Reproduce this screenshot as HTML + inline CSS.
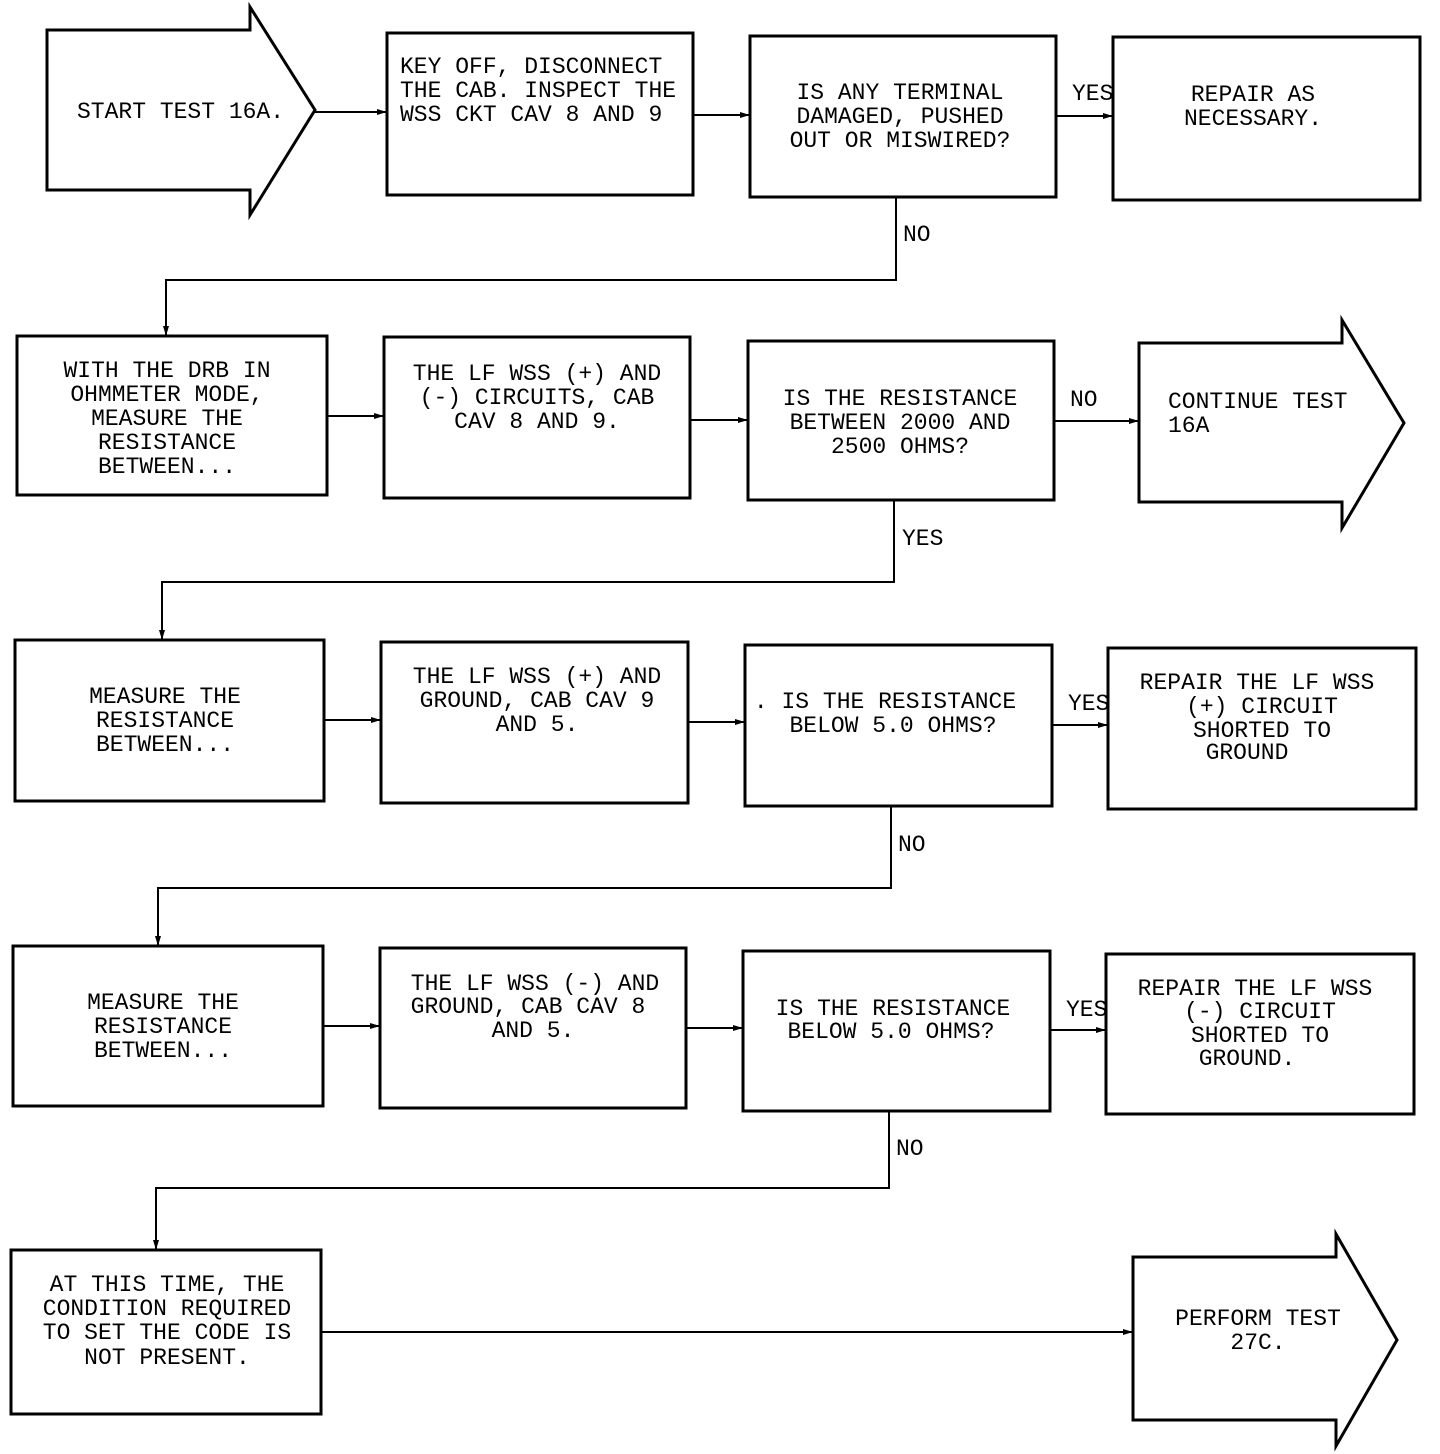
<!DOCTYPE html>
<html><head><meta charset="utf-8"><style>
html,body{margin:0;padding:0;background:#fff}
svg{display:block}
text{font-family:"Liberation Mono",monospace;font-size:23px;fill:#000}
</style></head><body>
<svg width="1440" height="1454" viewBox="0 0 1440 1454" xmlns="http://www.w3.org/2000/svg">
<defs><marker id="a" markerWidth="10" markerHeight="8" refX="9" refY="4" orient="auto" markerUnits="userSpaceOnUse"><path d="M0,1 L10,4 L0,7 Z" fill="#000"/></marker></defs>
<g fill="none" stroke="#000" stroke-width="3">
<!-- row1 -->
<polygon points="47,30 250,30 250,7 315,110 250,215 250,190 47,190"/>
<rect x="387" y="33" width="306" height="162"/>
<rect x="750" y="36" width="306" height="161"/>
<rect x="1113" y="37" width="307" height="163"/>
<!-- row2 -->
<rect x="17" y="336" width="310" height="159"/>
<rect x="384" y="337" width="306" height="161"/>
<rect x="748" y="341" width="306" height="159"/>
<polygon points="1139,343 1342,343 1342,320 1404,423 1342,528 1342,502 1139,502"/>
<!-- row3 -->
<rect x="15" y="640" width="309" height="161"/>
<rect x="381" y="642" width="307" height="161"/>
<rect x="745" y="645" width="307" height="161"/>
<rect x="1108" y="648" width="308" height="161"/>
<!-- row4 -->
<rect x="13" y="946" width="310" height="160"/>
<rect x="380" y="948" width="306" height="160"/>
<rect x="743" y="951" width="307" height="160"/>
<rect x="1106" y="954" width="308" height="160"/>
<!-- row5 -->
<rect x="11" y="1250" width="310" height="164"/>
<polygon points="1133,1257 1336,1257 1336,1234 1397,1340 1336,1446 1336,1420 1133,1420"/>
</g>
<g fill="none" stroke="#000" stroke-width="2" marker-end="url(#a)">
<line x1="315" y1="112" x2="386" y2="112"/>
<line x1="693" y1="115" x2="749" y2="115"/>
<line x1="1056" y1="116" x2="1112" y2="116"/>
<polyline points="896,197 896,280 166,280 166,335"/>
<line x1="327" y1="416" x2="383" y2="416"/>
<line x1="690" y1="420" x2="747" y2="420"/>
<line x1="1054" y1="421" x2="1138" y2="421"/>
<polyline points="894,500 894,582 162,582 162,639"/>
<line x1="324" y1="720" x2="380" y2="720"/>
<line x1="688" y1="722" x2="744" y2="722"/>
<line x1="1052" y1="725" x2="1107" y2="725"/>
<polyline points="891,806 891,888 158,888 158,945"/>
<line x1="323" y1="1026" x2="379" y2="1026"/>
<line x1="686" y1="1028" x2="742" y2="1028"/>
<line x1="1050" y1="1030" x2="1105" y2="1030"/>
<polyline points="889,1111 889,1188 156,1188 156,1249"/>
<line x1="321" y1="1332" x2="1132" y2="1332"/>
</g>
<text x="77" y="118">START TEST 16A.</text>
<text x="400" y="73">KEY OFF, DISCONNECT</text>
<text x="400" y="97">THE CAB. INSPECT THE</text>
<text x="400" y="121">WSS CKT CAV 8 AND 9</text>
<g text-anchor="middle">
<text x="900" y="99">IS ANY TERMINAL</text>
<text x="900" y="123">DAMAGED, PUSHED</text>
<text x="900" y="147">OUT OR MISWIRED?</text>
<text x="1253" y="101">REPAIR AS</text>
<text x="1253" y="125">NECESSARY.</text>
<text x="167" y="377">WITH THE DRB IN</text>
<text x="167" y="401">OHMMETER MODE,</text>
<text x="167" y="425">MEASURE THE</text>
<text x="167" y="449">RESISTANCE</text>
<text x="167" y="473">BETWEEN...</text>
<text x="537" y="380">THE LF WSS (+) AND</text>
<text x="537" y="404">(-) CIRCUITS, CAB</text>
<text x="537" y="428">CAV 8 AND 9.</text>
<text x="900" y="405">IS THE RESISTANCE</text>
<text x="900" y="429">BETWEEN 2000 AND</text>
<text x="900" y="453">2500 OHMS?</text>
<text x="165" y="703">MEASURE THE</text>
<text x="165" y="727">RESISTANCE</text>
<text x="165" y="751">BETWEEN...</text>
<text x="537" y="683">THE LF WSS (+) AND</text>
<text x="537" y="707">GROUND, CAB CAV 9</text>
<text x="537" y="731">AND 5.</text>
<text x="885" y="708">. IS THE RESISTANCE</text>
<text x="893" y="732">BELOW 5.0 OHMS?</text>
<text x="1257" y="689">REPAIR THE LF WSS</text>
<text x="1262" y="713">(+) CIRCUIT</text>
<text x="1262" y="737">SHORTED TO</text>
<text x="1247" y="759">GROUND</text>
<text x="163" y="1009">MEASURE THE</text>
<text x="163" y="1033">RESISTANCE</text>
<text x="163" y="1057">BETWEEN...</text>
<text x="535" y="990">THE LF WSS (-) AND</text>
<text x="528" y="1013">GROUND, CAB CAV 8</text>
<text x="533" y="1037">AND 5.</text>
<text x="893" y="1015">IS THE RESISTANCE</text>
<text x="891" y="1038">BELOW 5.0 OHMS?</text>
<text x="1255" y="995">REPAIR THE LF WSS</text>
<text x="1260" y="1018">(-) CIRCUIT</text>
<text x="1260" y="1042">SHORTED TO</text>
<text x="1247" y="1065">GROUND.</text>
<text x="167" y="1291">AT THIS TIME, THE</text>
<text x="167" y="1315">CONDITION REQUIRED</text>
<text x="167" y="1339">TO SET THE CODE IS</text>
<text x="167" y="1364">NOT PRESENT.</text>
<text x="1258" y="1325">PERFORM TEST</text>
<text x="1258" y="1349">27C.</text>
</g>
<text x="1168" y="408">CONTINUE TEST</text>
<text x="1168" y="432">16A</text>
<text x="1072" y="100">YES</text>
<text x="903" y="241">NO</text>
<text x="1070" y="406">NO</text>
<text x="902" y="545">YES</text>
<text x="1068" y="710">YES</text>
<text x="898" y="851">NO</text>
<text x="1066" y="1016">YES</text>
<text x="896" y="1155">NO</text>
</svg>
</body></html>
